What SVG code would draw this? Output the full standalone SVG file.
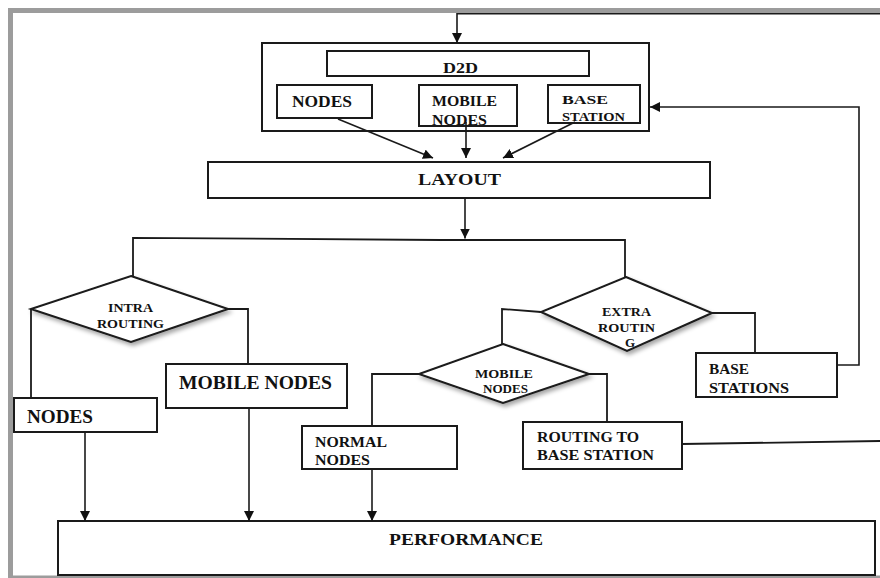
<svg xmlns="http://www.w3.org/2000/svg" width="880" height="578" viewBox="0 0 880 578">
<style>
.box{fill:#fff;stroke:#1a1a1a;stroke-width:2}
.dia{fill:#fff;stroke:#1a1a1a;stroke-width:2;filter:url(#sh)}
.ln{fill:none;stroke:#1a1a1a;stroke-width:1.8}
.ar{fill:none;stroke:#1a1a1a;stroke-width:1.6;marker-end:url(#ah)}
text{font-family:"Liberation Serif","Times New Roman",serif;font-weight:bold;fill:#111}
</style>
<defs>
<marker id="ah" viewBox="0 0 10 10" refX="10" refY="5" markerWidth="10" markerHeight="10" markerUnits="userSpaceOnUse" orient="auto">
<path d="M0,0 L10,5 L0,10 z" fill="#111"/>
</marker>
<filter id="sh" x="-10%" y="-20%" width="125%" height="150%">
<feDropShadow dx="2" dy="3" stdDeviation="2" flood-color="#000" flood-opacity="0.35"/>
</filter>
</defs>
<rect width="880" height="578" fill="#fff"/>
<g id="frame">
<path d="M10.5,578 V10.5 H880" fill="none" stroke="#9c9c9c" stroke-width="5"/>
<path d="M8,577 H880" fill="none" stroke="#9c9c9c" stroke-width="3"/>
</g>
<g id="d2d-group"><rect class="box" x="262" y="43" width="387" height="88"/></g>
<g id="d2d"><rect class="box" x="327" y="51" width="262" height="25"/><text x="443" y="73" font-size="15" textLength="35" lengthAdjust="spacingAndGlyphs">D2D</text></g>
<g id="top-nodes"><rect class="box" x="277" y="85" width="95" height="33"/><text x="292" y="107" font-size="16" textLength="60" lengthAdjust="spacingAndGlyphs">NODES</text></g>
<g id="top-mobile"><rect class="box" x="419" y="85" width="98" height="41"/><text x="432" y="106" font-size="15" textLength="65" lengthAdjust="spacingAndGlyphs">MOBILE</text><text x="432" y="125" font-size="15" textLength="55" lengthAdjust="spacingAndGlyphs">NODES</text></g>
<g id="top-base"><rect class="box" x="548" y="85" width="92" height="38"/><text x="562" y="104" font-size="12" textLength="46" lengthAdjust="spacingAndGlyphs">BASE</text><text x="562" y="121" font-size="13" textLength="63" lengthAdjust="spacingAndGlyphs">STATION</text></g>
<g id="layout"><rect class="box" x="208" y="162" width="502" height="36"/><text x="418" y="185" font-size="17" textLength="83" lengthAdjust="spacingAndGlyphs">LAYOUT</text></g>
<g id="intra"><polygon class="dia" points="131,276 228,309 131,342 31,309"/><text x="108" y="312" font-size="13" textLength="45" lengthAdjust="spacingAndGlyphs">INTRA</text><text x="97" y="328" font-size="13" textLength="67" lengthAdjust="spacingAndGlyphs">ROUTING</text></g>
<g id="nodes"><rect class="box" x="14" y="398" width="143" height="34"/><text x="27" y="423" font-size="18" textLength="66" lengthAdjust="spacingAndGlyphs">NODES</text></g>
<g id="mobile-nodes"><rect class="box" x="166" y="364" width="181" height="44"/><text x="179" y="389" font-size="18" textLength="153" lengthAdjust="spacingAndGlyphs">MOBILE NODES</text></g>
<g id="extra"><polygon class="dia" points="626,277 712,313 627,351 541,312"/><text x="602" y="316" font-size="13" textLength="49" lengthAdjust="spacingAndGlyphs">EXTRA</text><text x="598" y="332" font-size="13" textLength="57" lengthAdjust="spacingAndGlyphs">ROUTIN</text><text x="625" y="347" font-size="13">G</text></g>
<g id="base-stations"><rect class="box" x="696" y="353" width="141" height="44"/><text x="709" y="374" font-size="14" textLength="40" lengthAdjust="spacingAndGlyphs">BASE</text><text x="709" y="393" font-size="14" textLength="80" lengthAdjust="spacingAndGlyphs">STATIONS</text></g>
<g id="mobile-dia"><polygon class="dia" points="503,344 589,374 503,403 419,374"/><text x="475" y="378" font-size="13" textLength="58" lengthAdjust="spacingAndGlyphs">MOBILE</text><text x="483" y="393" font-size="13" textLength="45" lengthAdjust="spacingAndGlyphs">NODES</text></g>
<g id="normal-nodes"><rect class="box" x="302" y="426" width="155" height="43"/><text x="315" y="447" font-size="14" textLength="72" lengthAdjust="spacingAndGlyphs">NORMAL</text><text x="315" y="465" font-size="14" textLength="55" lengthAdjust="spacingAndGlyphs">NODES</text></g>
<g id="routing-bs"><rect class="box" x="523" y="422" width="159" height="47"/><text x="537" y="442" font-size="14" textLength="102" lengthAdjust="spacingAndGlyphs">ROUTING TO</text><text x="537" y="460" font-size="14" textLength="117" lengthAdjust="spacingAndGlyphs">BASE STATION</text></g>
<g id="performance"><rect class="box" x="58" y="521" width="817" height="54"/><text x="389" y="545" font-size="17" textLength="154" lengthAdjust="spacingAndGlyphs">PERFORMANCE</text></g>
<g id="connectors">
<path class="ar" d="M880,13.8 H457 V43"/>
<path class="ar" d="M338,119 L433,158"/>
<path class="ar" d="M466,122 V158"/>
<path class="ar" d="M575,122 L503,158"/>
<path class="ar" d="M837,365 H859 V107 H650"/>
<path class="ar" d="M465,198 V238.5"/>
<path class="ln" d="M133,276 V237.8 L440,240 H625 V277"/>
<path class="ln" d="M31,309 V398"/>
<path class="ln" d="M228,309 H248 V364"/>
<path class="ar" d="M85,432 V521"/>
<path class="ar" d="M249,408 V521"/>
<path class="ar" d="M372,469 V521"/>
<path class="ln" d="M712,313 H755 V353"/>
<path class="ln" d="M541,312 L502,309 V344"/>
<path class="ln" d="M419,374 H372 V426"/>
<path class="ln" d="M589,374 H607 V422"/>
<path class="ln" d="M682,444 L880,441"/>
</g>
</svg>
